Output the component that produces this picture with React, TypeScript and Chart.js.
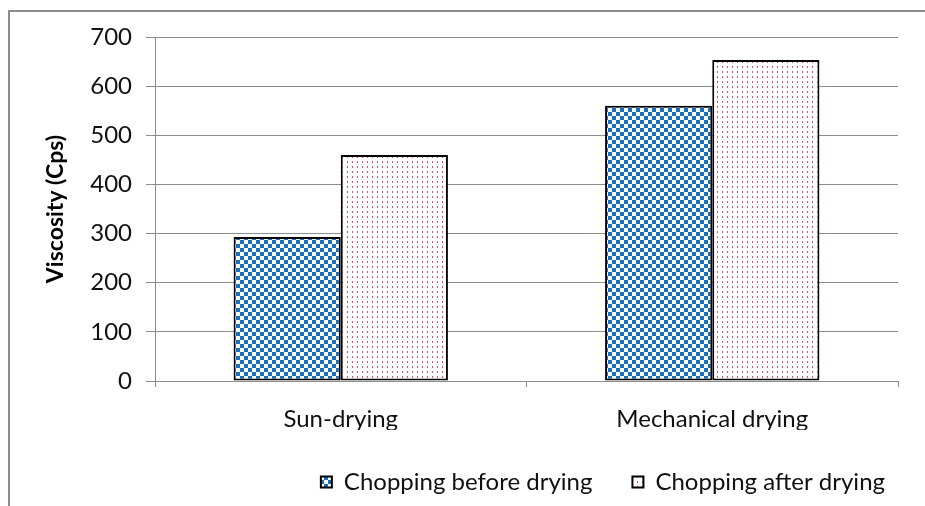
import React, { useEffect, useRef } from "react";
import { Chart, registerables } from "chart.js";

Chart.register(...registerables);

// Viscosity of the dried product, by drying method and chopping stage
const categories = ["Sun-drying", "Mechanical drying"];
const seriesNames = ["Chopping before drying", "Chopping after drying"];
const choppingBefore = [293, 560];
const choppingAfter = [460, 653];
const yTickValues = [0, 100, 200, 300, 400, 500, 600, 700];

const FONT = "Lato, 'Open Sans', sans-serif";
const GRID = "#8c8c8c";
const TEXT = "#111111";

// Blue/white checkerboard fill
function checkerPattern(ctx: CanvasRenderingContext2D): CanvasPattern | string {
  const c = document.createElement("canvas");
  c.width = 8;
  c.height = 8;
  const g = c.getContext("2d");
  if (!g) return "#1570c0";
  g.fillStyle = "#ffffff";
  g.fillRect(0, 0, 8, 8);
  g.fillStyle = "#1570c0";
  g.fillRect(0, 0, 4, 4);
  g.fillRect(4, 4, 4, 4);
  return ctx.createPattern(c, "repeat") || "#1570c0";
}

// Sparse red dots on white
function dotPattern(ctx: CanvasRenderingContext2D): CanvasPattern | string {
  const c = document.createElement("canvas");
  c.width = 5;
  c.height = 5;
  const g = c.getContext("2d");
  if (!g) return "#ffffff";
  g.fillStyle = "#ffffff";
  g.fillRect(0, 0, 5, 5);
  g.fillStyle = "rgba(214, 36, 60, 0.8)";
  g.fillRect(2, 1, 1, 2);
  return ctx.createPattern(c, "repeat") || "#ffffff";
}

export default function App() {
  const canvasRef = useRef<HTMLCanvasElement | null>(null);

  useEffect(() => {
    const canvas = canvasRef.current;
    if (!canvas) return;
    const ctx = canvas.getContext("2d");
    if (!ctx) return;

    const chart = new Chart(ctx, {
      type: "bar",
      data: {
        labels: categories,
        datasets: [
          {
            label: seriesNames[0],
            data: choppingBefore,
            backgroundColor: checkerPattern(ctx),
            borderColor: "#000000",
            borderWidth: 2,
            borderSkipped: false,
            categoryPercentage: 0.577,
            barPercentage: 1,
          },
          {
            label: seriesNames[1],
            data: choppingAfter,
            backgroundColor: dotPattern(ctx),
            borderColor: "#000000",
            borderWidth: 2,
            borderSkipped: false,
            categoryPercentage: 0.577,
            barPercentage: 1,
          },
        ],
      },
      options: {
        responsive: false,
        animation: false,
        layout: { padding: { top: 37, right: 0, left: 0, bottom: 2 } },
        plugins: {
          tooltip: { enabled: false },
          legend: {
            position: "bottom",
            align: "end",
            labels: {
              boxWidth: 11,
              boxHeight: 11,
              padding: 40,
              color: TEXT,
              font: { family: FONT, size: 24 },
            },
          },
        },
        scales: {
          x: {
            afterFit: (scale: any) => {
              scale.height = 49;
            },
            grid: {
              offset: true,
              drawOnChartArea: false,
              drawTicks: true,
              tickLength: 6,
              color: GRID,
            },
            border: { display: true, color: GRID, width: 1 },
            ticks: {
              padding: 18,
              color: TEXT,
              font: { family: FONT, size: 24 },
            },
          },
          y: {
            min: 0,
            max: 700,
            afterFit: (scale: any) => {
              scale.width = 155;
            },
            afterBuildTicks: (scale: any) => {
              scale.ticks = yTickValues.map((v) => ({ value: v }));
            },
            grid: {
              color: GRID,
              lineWidth: 1,
              drawTicks: true,
              tickLength: 9,
            },
            border: { display: true, color: GRID, width: 1 },
            ticks: {
              padding: 14,
              color: TEXT,
              font: { family: FONT, size: 24 },
            },
            title: {
              display: true,
              text: "Viscosity (Cps)",
              color: "#000000",
              padding: { top: 42, bottom: 0 },
              font: { family: FONT, size: 23, weight: "bold" },
            },
          },
          // blank right-hand margin beside the plot
          yRight: {
            position: "right",
            afterFit: (scale: any) => {
              scale.width = 27;
            },
            grid: { display: false },
            border: { display: false },
            ticks: { display: false },
          },
        },
      },
    });

    return () => chart.destroy();
  }, []);

  return (
    <div style={{ position: "absolute", left: 0, top: 0, width: 925, height: 506, overflow: "hidden", background: "#ffffff" }}>
      <div
        style={{
          position: "absolute",
          left: 8,
          top: 10,
          width: 940,
          height: 520,
          borderTop: "2px solid #8c8c8c",
          borderLeft: "2px solid #8c8c8c",
        }}
      />
      <canvas
        ref={canvasRef}
        width={925}
        height={506}
        style={{ position: "absolute", left: 0, top: 0 }}
      />
    </div>
  );
}
